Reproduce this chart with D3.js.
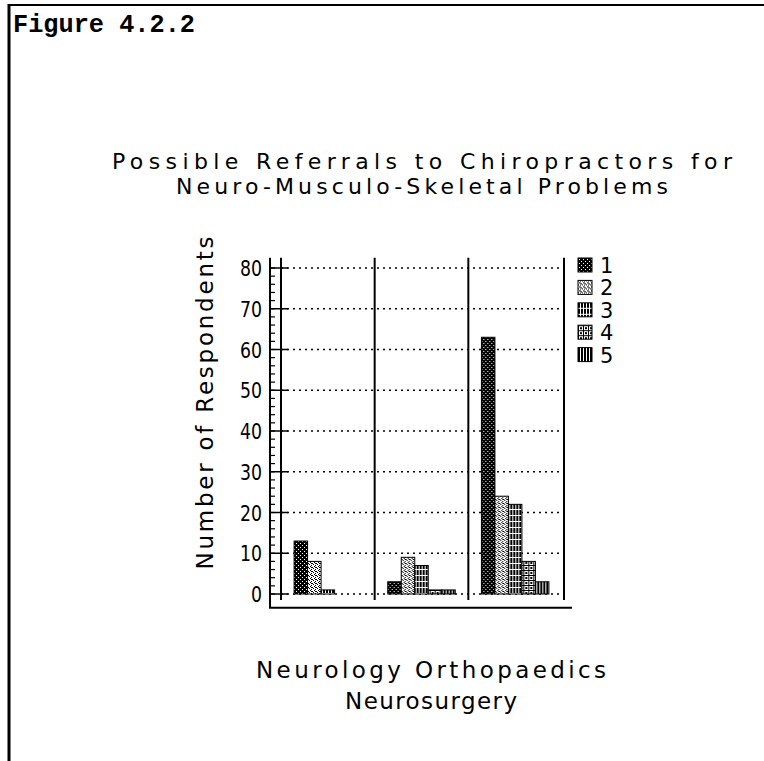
<!DOCTYPE html>
<html>
<head>
<meta charset="utf-8">
<script src="https://cdn.jsdelivr.net/npm/d3@7"></script>
<style>
  body { margin: 0; background: #fff; }
  svg text { font-family: "DejaVu Sans", sans-serif; fill: #000; }
</style>
</head>
<body>
<div id="chart"></div>
<script>
// chart values
const categories = ["Neurology", "Neurosurgery", "Orthopaedics"];
const seriesNames = ["1", "2", "3", "4", "5"];
const neurology = [13, 8, 1, 0, 0];
const neurosurgery = [3, 9, 7, 1, 1];
const orthopaedics = [63, 24, 22, 8, 3];
const yTicks = [0, 10, 20, 30, 40, 50, 60, 70, 80];
const titleLines = ["Possible Referrals to Chiropractors for", "Neuro-Musculo-Skeletal Problems"];

const groupValues = [neurology, neurosurgery, orthopaedics];

const W = 764, H = 761;
const svg = d3.select('#chart').append('svg')
    .attr('width', W)
    .attr('height', H);

// hatch patterns, one per series
const defs = svg.append('defs');
function pattern(id, w, h, draw) {
    const p = defs.append('pattern')
        .attr('id', id)
        .attr('patternUnits', 'userSpaceOnUse')
        .attr('width', w).attr('height', h)
        .attr('shape-rendering', 'crispEdges');
    draw(p);
}
function dot(p, x, y, w, h, c) {
    p.append('rect').attr('x', x).attr('y', y).attr('width', w).attr('height', h).attr('fill', c);
}
pattern('p1', 4, 4, p => {
    dot(p, 0, 0, 4, 4, '#000');
    dot(p, 1, 1, 1, 1, '#fff');
    dot(p, 3, 3, 1, 1, '#fff');
});
pattern('p2', 4, 4, p => {
    dot(p, 0, 0, 4, 4, '#fff');
    dot(p, 0, 0, 1, 1, '#000');
    dot(p, 2, 1, 1, 1, '#000');
    dot(p, 1, 2, 1, 1, '#000');
    dot(p, 3, 3, 1, 1, '#000');
    dot(p, 2, 3, 1, 1, '#000');
});
pattern('p3', 3, 6, p => {
    dot(p, 0, 0, 3, 6, '#fff');
    dot(p, 0, 0, 2, 5, '#000');
});
pattern('p4', 5, 5, p => {
    dot(p, 0, 0, 5, 5, '#fff');
    dot(p, 0, 0, 5, 1, '#000');
    dot(p, 0, 0, 1, 5, '#000');
    dot(p, 2, 2, 2, 2, '#000');
});
pattern('p5', 3, 1, p => {
    dot(p, 0, 0, 3, 1, '#fff');
    dot(p, 0, 0, 2, 1, '#000');
});
const fills = ['url(#p1)', 'url(#p2)', 'url(#p3)', 'url(#p4)', 'url(#p5)'];

// page frame
svg.append('line').attr('x1', 8).attr('x2', W).attr('y1', 5).attr('y2', 5)
    .attr('stroke', '#000').attr('stroke-width', 2);
svg.append('line').attr('x1', 9).attr('x2', 9).attr('y1', 4).attr('y2', H)
    .attr('stroke', '#000').attr('stroke-width', 3);

svg.append('text')
    .attr('x', 13).attr('y', 32)
    .style('font-family', '"Liberation Mono", monospace')
    .style('font-weight', 'bold')
    .style('font-size', '25px')
    .attr('textLength', 182).attr('lengthAdjust', 'spacingAndGlyphs')
    .text('Figure 4.2.2');

// title
svg.selectAll('.title').data(titleLines).enter().append('text')
    .attr('class', 'title')
    .attr('x', 422)
    .attr('y', (d, i) => 169 + i * 25)
    .attr('text-anchor', 'middle')
    .style('font-size', '22px')
    .attr('textLength', (d, i) => i === 0 ? 620 : 492)
    .attr('lengthAdjust', 'spacing')
    .text(d => d);

// scales
const left = 281, right = 562;
const y = d3.scaleLinear().domain([0, 80]).range([594, 268]);
const x0 = d3.scaleBand().domain(categories).range([left, right]).padding(0);
const x1 = d3.scaleBand().domain(seriesNames).range([0, x0.bandwidth()])
    .paddingInner(0).paddingOuter(0.97);

const plotTop = y(82.5), plotBottom = y(-3.4);

// gridlines (dotted)
svg.append('g').selectAll('line').data(yTicks).enter().append('line')
    .attr('x1', left).attr('x2', right + 3)
    .attr('y1', d => y(d)).attr('y2', d => y(d))
    .attr('stroke', '#000').attr('stroke-width', 1.5)
    .attr('stroke-dasharray', '2,4');

// bars
const groups = svg.append('g').selectAll('g').data(categories).enter().append('g')
    .attr('transform', d => `translate(${x0(d)},0)`);
groups.selectAll('rect')
    .data((d, gi) => groupValues[gi].map((v, si) => ({ s: seriesNames[si], v, si })))
    .enter().append('rect')
    .attr('x', d => x1(d.s))
    .attr('y', d => y(d.v))
    .attr('width', x1.bandwidth())
    .attr('height', d => y(0) - y(d.v))
    .attr('fill', d => fills[d.si])
    .attr('stroke', '#000')
    .attr('stroke-width', 1);

// frame lines around plot
const frame = svg.append('g').attr('stroke', '#000').attr('fill', 'none');
frame.append('line').attr('x1', 270).attr('x2', 270).attr('y1', plotTop).attr('y2', plotBottom).attr('stroke-width', 2);
frame.append('line').attr('x1', left).attr('x2', left).attr('y1', plotTop).attr('y2', y(-1.5)).attr('stroke-width', 2);
frame.append('line').attr('x1', 269).attr('x2', right + 10).attr('y1', plotBottom).attr('y2', plotBottom).attr('stroke-width', 2);
categories.slice(1).forEach(c => {
    frame.append('line').attr('x1', x0(c)).attr('x2', x0(c)).attr('y1', plotTop).attr('y2', y(-1.5)).attr('stroke-width', 2);
});
frame.append('line').attr('x1', right + 2).attr('x2', right + 2).attr('y1', plotTop).attr('y2', y(-1.5)).attr('stroke-width', 2);

// y ticks: minor on outer line, major across
const minor = d3.range(0, 82, 2);
frame.selectAll('.minor').data(minor).enter().append('line')
    .attr('x1', 270).attr('x2', 275)
    .attr('y1', d => y(d)).attr('y2', d => y(d))
    .attr('stroke-width', 1.2);
frame.selectAll('.major').data(yTicks).enter().append('line')
    .attr('x1', 270).attr('x2', 288)
    .attr('y1', d => y(d)).attr('y2', d => y(d))
    .attr('stroke-width', 1.5);

svg.append('g').selectAll('text').data(yTicks).enter().append('text')
    .attr('x', 262)
    .attr('y', d => y(d) + 8)
    .attr('text-anchor', 'end')
    .style('font-size', '22px')
    .attr('textLength', d => String(d).length * 11)
    .attr('lengthAdjust', 'spacingAndGlyphs')
    .text(d => d);

// y label
svg.append('text')
    .attr('transform', 'translate(213,403) rotate(-90)')
    .attr('text-anchor', 'middle')
    .style('font-size', '23px')
    .attr('textLength', 333)
    .attr('lengthAdjust', 'spacing')
    .text('Number of Respondents');

// category labels (wrapped as in the original)
svg.append('text')
    .attr('x', 431).attr('y', 678)
    .attr('text-anchor', 'middle')
    .style('font-size', '23px')
    .attr('textLength', 350).attr('lengthAdjust', 'spacing')
    .text(categories[0] + ' ' + categories[2]);
svg.append('text')
    .attr('x', 431).attr('y', 709)
    .attr('text-anchor', 'middle')
    .style('font-size', '23px')
    .attr('textLength', 172).attr('lengthAdjust', 'spacing')
    .text(categories[1]);

// legend
const legend = svg.append('g').selectAll('g').data(seriesNames).enter().append('g')
    .attr('transform', (d, i) => `translate(578,${258 + i * 22.4})`);
legend.append('rect')
    .attr('width', 14).attr('height', 14)
    .attr('fill', (d, i) => fills[i])
    .attr('stroke', '#000').attr('stroke-width', 1);
legend.append('text')
    .attr('x', 22).attr('y', 15)
    .style('font-size', '21px')
    .text(d => d);
</script>
</body>
</html>
